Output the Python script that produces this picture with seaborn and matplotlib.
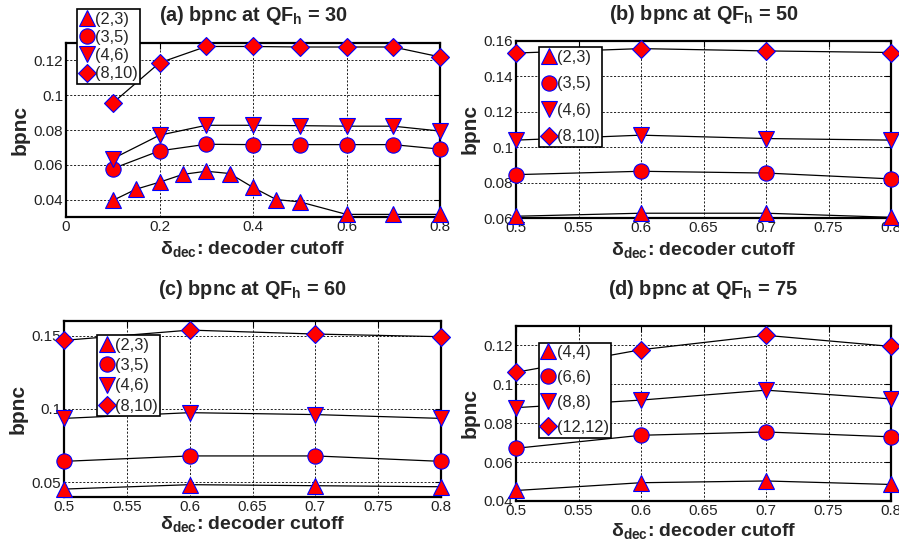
import matplotlib
matplotlib.use("Agg")
import matplotlib.pyplot as plt
from matplotlib.lines import Line2D
import seaborn as sns

# ---------------- data ----------------
# (a) QF_h = 30
xa_23 = [0.1, 0.15, 0.2, 0.25, 0.3, 0.35, 0.4, 0.45, 0.5, 0.6, 0.7, 0.8]
ya_23 = [0.0395, 0.046, 0.050, 0.0545, 0.0563, 0.055, 0.047, 0.040, 0.0387, 0.0315, 0.0315, 0.0315]
xa = [0.1, 0.2, 0.3, 0.4, 0.5, 0.6, 0.7, 0.8]
ya_35 = [0.0578, 0.068, 0.0718, 0.0716, 0.0716, 0.0716, 0.0716, 0.069]
ya_46 = [0.0635, 0.077, 0.0827, 0.0827, 0.0825, 0.0822, 0.0822, 0.0794]
ya_810 = [0.0955, 0.1186, 0.128, 0.128, 0.1277, 0.1277, 0.1277, 0.122]

# shared x for (b), (c), (d)
xb = [0.5, 0.6, 0.7, 0.8]
# (b) QF_h = 50
yb_23 = [0.061, 0.0627, 0.0627, 0.0604]
yb_35 = [0.0845, 0.0864, 0.0854, 0.0821]
yb_46 = [0.1040, 0.1068, 0.1049, 0.1040]
yb_810 = [0.1532, 0.1557, 0.1544, 0.1535]
# (c) QF_h = 60
yc_23 = [0.0454, 0.0484, 0.0477, 0.0470]
yc_35 = [0.0643, 0.068, 0.068, 0.0643]
yc_46 = [0.0936, 0.0975, 0.0962, 0.0936]
yc_810 = [0.1468, 0.1538, 0.1511, 0.1493]
# (d) QF_h = 75
yd_44 = [0.0454, 0.0494, 0.0503, 0.0485]
yd_66 = [0.0671, 0.0738, 0.0755, 0.0730]
yd_88 = [0.0880, 0.0919, 0.0970, 0.0925]
yd_1212 = [0.1062, 0.1178, 0.1252, 0.1195]

labels_abc = ["(2,3)", "(3,5)", "(4,6)", "(8,10)"]
labels_d = ["(4,4)", "(6,6)", "(8,8)", "(12,12)"]

# ---------------- style ----------------
sns.set_theme(style="white")
plt.rcParams["font.family"] = ["Liberation Sans", "DejaVu Sans"]
plt.rcParams["mathtext.fontset"] = "custom"
plt.rcParams["mathtext.rm"] = "Liberation Sans"
plt.rcParams["mathtext.bf"] = "Liberation Sans:bold"
plt.rcParams["mathtext.it"] = "Liberation Sans:italic"

markers = ["^", "o", "v", "D"]
msizes = [12, 11, 12, 9]

fig = plt.figure(figsize=(8.99, 5.48), dpi=100)

def px_axes(l, r, t, b):
    W, H = 899.0, 548.0
    return fig.add_axes([l / W, 1 - b / H, (r - l) / W, (b - t) / H])

ax_a = px_axes(66, 440, 43, 217)
ax_b = px_axes(516, 891, 41, 218)
ax_c = px_axes(64, 441, 321, 497)
ax_d = px_axes(516, 891, 326, 501)

panels = [
    (ax_a, [(xa_23, ya_23), (xa, ya_35), (xa, ya_46), (xa, ya_810)], labels_abc,
     r"(a) bpnc at QF$_{\mathbf{h}}$ = 30", (0, 0.8), [0, 0.2, 0.4, 0.6, 0.8], ["0", "0.2", "0.4", "0.6", "0.8"],
     (0.03, 0.13), [0.04, 0.06, 0.08, 0.1, 0.12], ["0.04", "0.06", "0.08", "0.1", "0.12"],
     (0.029, 1.195), 16, 0.2, 4),
    (ax_b, [(xb, yb_23), (xb, yb_35), (xb, yb_46), (xb, yb_810)], labels_abc,
     r"(b) bpnc at QF$_{\mathbf{h}}$ = 50", (0.5, 0.8), None, None,
     (0.06, 0.16), [0.06, 0.08, 0.1, 0.12, 0.14, 0.16], ["0.06", "0.08", "0.1", "0.12", "0.14", "0.16"],
     (0.062, 0.964), 15, 0.7, 4),
    (ax_c, [(xb, yc_23), (xb, yc_35), (xb, yc_46), (xb, yc_810)], labels_abc,
     r"(c) bpnc at QF$_{\mathbf{h}}$ = 60", (0.5, 0.8), None, None,
     (0.04, 0.16), [0.05, 0.1, 0.15], ["0.05", "0.1", "0.15"],
     (0.088, 0.92), 19, 0.33, 0),
    (ax_d, [(xb, yd_44), (xb, yd_66), (xb, yd_88), (xb, yd_1212)], labels_d,
     r"(d) bpnc at QF$_{\mathbf{h}}$ = 75", (0.5, 0.8), None, None,
     (0.04, 0.13), [0.04, 0.06, 0.08, 0.1, 0.12], ["0.04", "0.06", "0.08", "0.1", "0.12"],
     (0.06, 0.905), 22, 0.61, 2),
]

xt_default = [0.5, 0.55, 0.6, 0.65, 0.7, 0.75, 0.8]
xtl_default = ["0.5", "0.55", "0.6", "0.65", "0.7", "0.75", "0.8"]

for ax, series, labels, title, xlim, xt, xtl, ylim, yt, ytl, legpos, tpad, lspace, xlpad in panels:
    for (xs, ys), m, ms in zip(series, markers, msizes):
        sns.lineplot(x=xs, y=ys, ax=ax, color="black", linewidth=0.9,
                     marker=m, markersize=ms, markerfacecolor="red",
                     markeredgecolor="blue", markeredgewidth=0.8,
                     clip_on=False, zorder=3)
    ax.set_xlim(*xlim)
    ax.set_ylim(*ylim)
    if xt is None:
        xt, xtl = xt_default, xtl_default
    ax.set_xticks(xt)
    ax.set_xticklabels(xtl)
    ax.set_yticks(yt)
    ax.set_yticklabels(ytl)
    ax.grid(True, color="black", linestyle=(0, (2.5, 2)), linewidth=0.6)
    for s in ax.spines.values():
        s.set_visible(True)
        s.set_color("black")
        s.set_linewidth(1.6)
    ax.tick_params(direction="in", length=4, width=0.8, top=True, right=True,
                   labelsize=11, pad=2, colors="black")
    for lab in ax.get_xticklabels() + ax.get_yticklabels():
        lab.set_color("#222222")
    ax.set_title(title, fontsize=14.3, fontweight="bold", pad=tpad)
    ax.set_xlabel(r"$\mathbf{\delta_{dec}}$: decoder cutoff", fontsize=14, fontweight="bold", labelpad=xlpad)
    ax.set_ylabel("bpnc", fontsize=15, fontweight="bold", labelpad=3)
    handles = [Line2D([], [], linestyle="none", marker=m, markersize=ms,
                      markerfacecolor="red", markeredgecolor="blue", markeredgewidth=0.8)
               for m, ms in zip(markers, msizes)]
    leg = ax.legend(handles, labels, loc="upper left", bbox_to_anchor=legpos,
                    bbox_transform=ax.transAxes, fontsize=11.8, frameon=True,
                    fancybox=False, edgecolor="black", framealpha=1,
                    handlelength=0.9, handletextpad=0.05, labelspacing=lspace,
                    borderpad=0.15, borderaxespad=0)
    leg.get_frame().set_linewidth(1.2)
    leg.set_zorder(5)

fig.savefig("out.png", dpi=100)
